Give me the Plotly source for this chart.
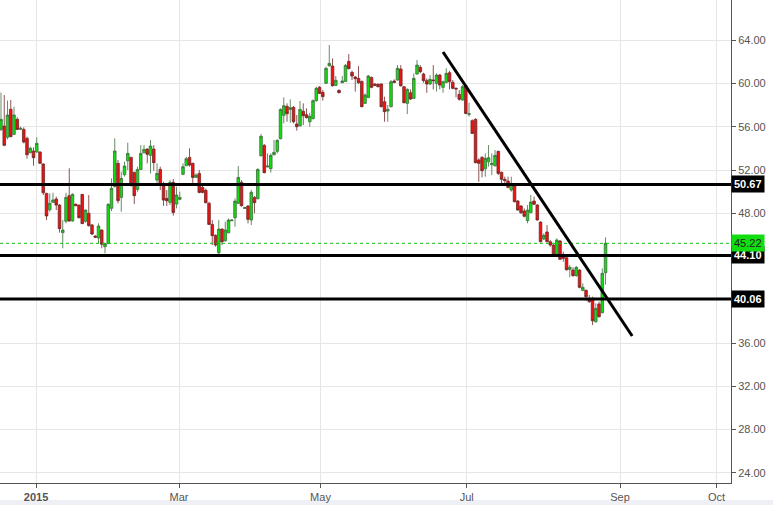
import plotly.graph_objects as go

# ---- data (daily candles) ----
opens = [55.76,56.07,55.03,57.62,55.30,56.69,55.77,55.76,54.93,53.61,53.76,53.67,53.67,52.56,49.84,48.33,49.01,49.32,48.76,46.21,
         47.26,49.63,47.29,48.83,48.76,49.75,47.26,48.00,46.92,45.90,45.71,46.45,44.91,45.19,48.46,50.46,52.62,49.47,51.57,52.86,
         53.17,51.78,50.21,52.06,53.60,53.94,53.36,53.94,51.07,52.06,50.70,49.38,49.01,50.86,48.85,49.29,51.60,52.40,53.17,52.62,
         51.32,51.69,50.40,50.12,48.92,46.97,45.96,44.35,46.54,45.46,46.20,47.31,47.59,48.92,50.86,48.45,48.67,47.38,49.47,49.35,
         53.33,54.28,52.28,52.13,53.42,53.73,54.90,57.06,57.89,57.61,57.80,56.26,56.10,57.43,57.12,56.47,56.75,58.42,59.65,59.19,
         60.02,61.65,61.62,59.83,59.37,60.08,60.20,62.05,61.04,60.61,60.48,60.20,58.17,58.72,60.57,59.96,59.93,59.96,58.32,57.46,
         57.86,60.24,60.33,61.35,59.71,58.17,59.15,58.63,60.88,61.50,60.88,60.27,59.96,60.33,60.02,60.79,59.65,60.11,61.00,60.11,
         59.56,59.00,58.48,59.80,57.15,56.57,56.69,52.93,53.17,52.12,52.77,52.50,52.40,53.73,51.79,51.14,50.98,50.15,50.55,49.13,
         48.67,48.21,47.32,48.08,49.13,48.76,47.19,45.62,46.27,45.37,45.06,44.05,45.43,43.98,43.89,42.81,42.75,42.23,42.75,40.87,
         40.87,40.13,40.13,37.97,39.61,38.80,42.50]
highs = [59.16,58.94,58.42,58.48,57.86,56.88,56.01,55.95,55.09,54.16,54.10,55.03,53.73,52.62,49.90,49.84,49.90,49.54,48.86,47.38,
         49.90,52.16,49.84,48.92,48.80,49.78,48.36,49.69,47.01,45.96,47.07,46.51,45.28,48.92,51.23,54.93,52.93,51.85,52.77,54.53,
         53.23,51.85,52.31,54.31,54.31,54.00,54.77,54.31,52.62,52.31,50.92,50.15,51.07,51.17,50.46,50.00,52.62,53.23,54.00,52.68,
         51.69,52.00,50.61,50.30,49.07,47.37,46.05,47.37,46.60,47.22,47.53,47.44,49.38,52.37,51.07,48.61,48.76,50.15,49.60,52.16,
         55.33,54.41,53.54,53.54,54.78,54.84,57.71,58.72,58.17,58.54,57.92,57.09,58.39,58.17,57.71,57.30,58.54,59.71,59.77,59.40,
         61.56,63.57,62.33,60.70,59.46,60.70,61.81,62.73,61.19,60.70,61.62,60.27,59.09,60.79,60.64,60.02,60.02,60.02,58.79,58.02,
         60.33,60.39,61.71,61.71,59.77,59.56,59.46,60.94,62.18,61.71,61.00,60.48,60.79,61.71,60.94,60.88,60.27,61.41,61.19,60.33,
         59.65,59.40,59.86,59.86,58.23,56.69,56.78,53.08,53.30,53.54,54.31,53.54,53.85,53.79,51.85,51.39,51.39,51.39,50.61,49.23,
         48.76,48.45,48.76,49.69,49.54,48.86,47.25,46.14,46.91,45.53,45.16,45.68,45.53,44.45,44.05,43.21,43.00,43.12,42.81,41.52,
         40.96,40.44,40.28,39.67,39.82,42.90,45.77]
lows = [55.60,54.20,54.84,55.03,55.24,55.70,55.70,54.47,53.05,53.54,52.40,53.61,52.56,49.69,47.38,48.15,48.98,48.30,46.21,44.76,
        47.07,47.22,47.22,48.67,47.53,47.01,47.13,46.76,45.99,45.71,45.22,44.76,44.29,45.16,48.21,50.40,48.92,48.15,51.39,52.00,
        50.46,48.85,50.00,52.00,53.54,52.62,51.69,51.94,50.61,50.15,48.67,48.67,48.76,47.78,48.45,49.22,51.54,52.37,52.31,50.77,
        51.29,49.84,49.84,48.92,46.91,45.06,44.91,43.98,45.06,45.37,46.14,47.28,46.76,48.85,48.61,48.40,47.07,46.91,48.00,49.29,
        53.24,51.69,52.25,51.76,53.36,53.54,54.84,56.32,56.47,56.38,56.32,55.64,56.01,56.17,56.78,56.01,56.69,58.32,59.03,58.42,
        59.96,61.56,59.71,59.77,59.09,60.02,60.14,61.31,60.33,59.25,59.96,57.80,58.11,58.63,59.56,59.77,59.65,57.80,56.47,56.47,
        57.80,60.02,60.27,59.71,58.17,57.18,58.48,58.57,60.82,60.94,60.08,59.15,59.86,59.46,59.25,59.46,59.15,60.02,59.46,59.46,
        58.72,58.42,58.42,57.18,56.94,55.33,52.62,50.92,51.32,51.39,52.31,51.54,52.31,51.54,50.77,50.52,50.30,50.00,49.01,48.24,
        47.93,47.62,47.07,47.99,48.76,47.32,45.31,45.53,45.31,44.91,44.08,43.98,43.68,43.52,42.69,42.07,42.13,42.13,41.05,40.78,
        39.91,39.73,37.66,37.88,38.37,38.74,41.40]
closes = [56.69,54.29,57.09,55.09,57.09,55.76,55.86,54.59,53.42,54.01,53.14,54.47,52.62,49.90,47.75,48.92,49.23,48.76,46.58,46.45,
          49.47,47.29,49.75,48.70,47.59,47.04,48.30,46.86,46.08,45.78,46.82,45.13,45.19,48.83,50.31,53.76,49.17,51.23,52.37,53.54,
          50.70,49.63,52.06,53.54,53.91,53.45,54.22,52.68,51.69,50.67,49.22,49.16,50.86,48.08,49.69,49.47,52.31,53.05,52.46,51.32,
          51.54,49.93,49.93,48.98,46.97,45.93,45.06,46.54,45.37,46.45,47.37,47.37,49.13,51.32,48.70,48.52,47.44,49.94,48.98,52.06,
          55.12,51.76,52.37,53.36,53.64,54.75,57.61,57.95,57.21,57.77,56.47,56.01,57.61,57.03,56.84,56.97,58.42,59.56,59.09,58.79,
          61.41,61.87,59.80,60.30,59.16,60.24,61.68,61.38,60.70,60.45,60.08,57.86,58.94,60.70,59.65,59.83,59.71,57.86,57.40,57.61,
          60.17,60.11,61.41,59.80,58.23,59.46,58.57,60.48,61.71,61.10,60.27,59.96,60.39,60.27,60.79,59.86,60.17,60.94,60.17,59.56,
          59.50,58.54,59.71,57.24,57.21,55.39,52.68,52.62,51.94,53.08,53.14,52.62,53.36,51.69,51.14,51.02,50.40,50.77,49.07,48.30,
          48.05,47.72,48.30,49.04,48.83,47.38,45.37,45.96,45.37,45.06,44.14,45.53,43.74,43.83,42.78,43.00,42.23,43.00,41.15,41.15,
          40.28,39.82,38.06,39.20,38.43,42.44,45.22]
bar_index = list(range(len(closes)))

# time-axis labels (bar-index position of each month gridline)
tick_pos = [10.77, 54.77, 98.3, 143.3, 190.46, 220.15]
tick_text = ["<b>2015</b>", "Mar", "May", "Jul", "Sep", "Oct"]

# price-axis ticks (labels at 40 and 44 sit under the level boxes)
price_ticks = [24, 28, 32, 36, 40, 44, 48, 52, 56, 60, 64, 68]
price_tick_text = ["24.00", "28.00", "32.00", "36.00", "", "", "48.00", "52.00", "56.00", "60.00", "64.00", "68.00"]

# price levels drawn on the chart
levels = [50.67, 44.10, 40.06]
last_price = 45.22

# trend line (bar index, price)
trend_x = [136.0, 194.2]
trend_y = [62.92, 36.65]

x_range = [-0.31, 224.6]
y_range = [23.05, 67.73]

fig = go.Figure()
fig.add_trace(go.Candlestick(
    x=bar_index, open=opens, high=highs, low=lows, close=closes,
    increasing=dict(fillcolor="#11dd11", line=dict(color="#3d6e3d", width=0.8)),
    decreasing=dict(fillcolor="#ee1111", line=dict(color="#702828", width=0.8)),
    whiskerwidth=0, hoverinfo="skip", showlegend=False,
))

shapes = []
# bottom light band
shapes.append(dict(type="rect", xref="paper", yref="paper", x0=-0.01, x1=1.08, y0=-0.05, y1=-0.035,
                   fillcolor="#eef0f6", line=dict(width=0), layer="below"))
for lv in levels:
    shapes.append(dict(type="line", xref="paper", yref="y", x0=0, x1=1, y0=lv, y1=lv,
                       line=dict(color="black", width=3)))
shapes.append(dict(type="line", xref="paper", yref="y", x0=0, x1=1, y0=last_price, y1=last_price,
                   line=dict(color="#11c011", width=1, dash="dot")))
shapes.append(dict(type="line", xref="x", yref="y", x0=trend_x[0], x1=trend_x[1], y0=trend_y[0], y1=trend_y[1],
                   line=dict(color="black", width=3)))

annotations = []
for lv in levels:
    annotations.append(dict(xref="paper", yref="y", x=1, y=lv, xanchor="left", yanchor="middle",
                            text="<b>%.2f</b>" % lv, showarrow=False, bgcolor="black",
                            font=dict(color="white", size=11, family="Liberation Sans, Arial"),
                            borderpad=2))
annotations.append(dict(xref="paper", yref="y", x=1, y=last_price, xanchor="left", yanchor="middle",
                        text="%.2f" % last_price, showarrow=False, bgcolor="#11dd11",
                        font=dict(color="#222", size=11, family="Liberation Sans, Arial"),
                        borderpad=2))

fig.update_layout(
    width=773, height=505,
    margin=dict(l=0, r=42, t=0, b=22, autoexpand=False),
    paper_bgcolor="white", plot_bgcolor="white",
    shapes=shapes, annotations=annotations,
    hovermode=False, boxgap=0.2, boxgroupgap=0,
    font=dict(family="Liberation Sans, Arial", size=11, color="#555"),
    xaxis=dict(range=x_range, rangeslider=dict(visible=False), tickmode="array",
               tickvals=tick_pos, ticktext=tick_text, showgrid=True, gridcolor="#e6e6e6",
               showline=True, linecolor="#555", linewidth=1, ticks="outside", ticklen=4,
               tickcolor="#555", zeroline=False, automargin=False, tickfont=dict(size=11, color="#555")),
    yaxis=dict(range=y_range, side="right", tickmode="array", tickvals=price_ticks, ticktext=price_tick_text,
               showgrid=True, gridcolor="#e6e6e6", showline=True, linecolor="#555", linewidth=1,
               ticks="outside", ticklen=4, tickcolor="#555", zeroline=False, automargin=False,
               tickfont=dict(size=11, color="#555")),
)

fig.write_html("out.html", config={"displayModeBar": False},
               post_script="document.body.style.margin='0';document.body.style.overflow='hidden';")
